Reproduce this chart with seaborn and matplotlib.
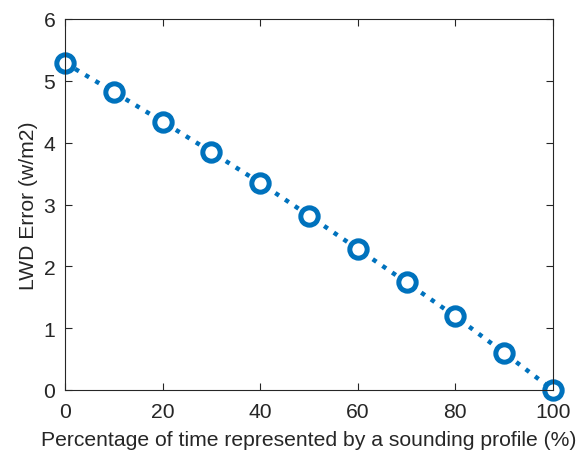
import matplotlib
matplotlib.use("Agg")
import matplotlib.pyplot as plt
import seaborn as sns
import pandas as pd

pct = [0, 10, 20, 30, 40, 50, 60, 70, 80, 90, 100]
err = [5.29, 4.82, 4.34, 3.85, 3.35, 2.82, 2.28, 1.74, 1.19, 0.60, 0.0]
xticks = [0, 20, 40, 60, 80, 100]
yticks = [0, 1, 2, 3, 4, 5, 6]

sns.set_style("ticks")
plt.rcParams['font.family'] = ['Liberation Sans', 'DejaVu Sans']

df = pd.DataFrame({"pct": pct, "err": err})
fig = plt.figure(figsize=(5.82, 4.56), dpi=100)
ax = fig.add_axes([65/582, 1 - 391/456, (553-65)/582, (391-20)/456])
c = "#0072BD"
sns.lineplot(data=df, x="pct", y="err", ax=ax, color=c, linestyle=":", linewidth=3.2,
             marker="o", markersize=12.5, markerfacecolor="white", markeredgecolor=c,
             markeredgewidth=3.6, clip_on=False)
ax.set_xlim(0, 100)
ax.set_ylim(0, 6)
ax.set_xticks(xticks)
ax.set_yticks(yticks)
fs = 15.2
ax.set_xlabel("Percentage of time represented by a sounding profile (%)", fontsize=fs,
              color="#262626", labelpad=6)
ax.set_ylabel("LWD Error (w/m2)", fontsize=fs, color="#262626", labelpad=4)
ax.tick_params(direction="in", top=True, right=True, labelsize=fs, colors="#262626",
               length=5, width=0.8)
ax.tick_params(axis="x", pad=9)
ax.tick_params(axis="y", pad=7)
for s in ax.spines.values():
    s.set_color("#262626")
    s.set_linewidth(0.8)
fig.savefig("out.png", dpi=100)
